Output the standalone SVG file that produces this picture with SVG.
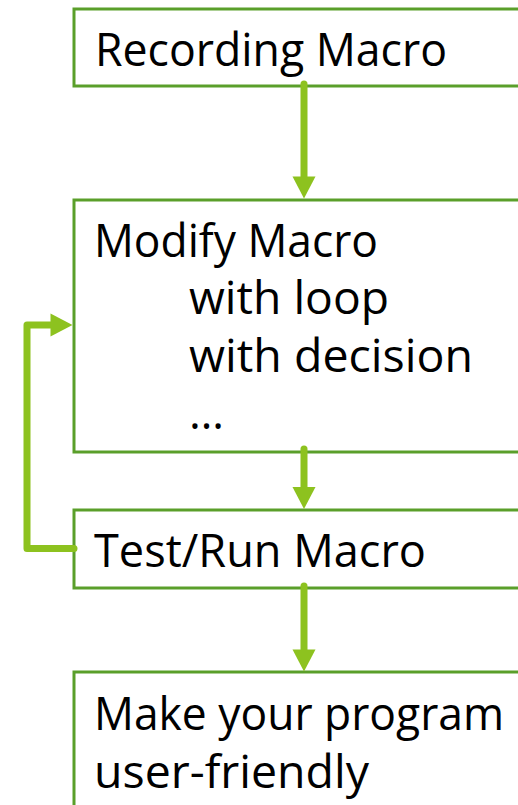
<svg xmlns="http://www.w3.org/2000/svg" width="518" height="805" viewBox="0 0 518 805">
  <style>
    .box { fill: #ffffff; stroke: #5a9f2a; stroke-width: 3; }
    .lbl { font-family: "Open Sans", "Liberation Sans", sans-serif; font-size: 45px; fill: #000000; }
    .conn { fill: none; stroke: #8dc21f; stroke-width: 7; stroke-linecap: round; stroke-linejoin: round; }
  </style>
  <defs>
    <marker id="arrow" markerUnits="userSpaceOnUse" markerWidth="22" markerHeight="23" refX="7" refY="11.5" orient="auto" overflow="visible">
      <path d="M0,0 L22,11.5 L0,23 Z" fill="#8dc21f"/>
    </marker>
  </defs>
  <rect width="518" height="805" fill="#ffffff"/>

  <g id="node-recording">
    <rect class="box" x="74" y="9" width="500" height="77"/>
    <text class="lbl" x="95" y="66" textLength="352" lengthAdjust="spacingAndGlyphs">Recording Macro</text>
  </g>

  <g id="node-modify">
    <rect class="box" x="74" y="200" width="500" height="252"/>
    <text class="lbl" x="94" y="256.5" textLength="284" lengthAdjust="spacingAndGlyphs">Modify Macro</text>
    <text class="lbl" x="189" y="314" textLength="200" lengthAdjust="spacingAndGlyphs">with loop</text>
    <text class="lbl" x="189" y="371.5" textLength="284" lengthAdjust="spacingAndGlyphs">with decision</text>
    <text class="lbl" x="189" y="429">…</text>
  </g>

  <g id="node-test">
    <rect class="box" x="74" y="510" width="500" height="78"/>
    <text class="lbl" x="94" y="567" textLength="332" lengthAdjust="spacingAndGlyphs">Test/Run Macro</text>
  </g>

  <g id="node-make">
    <rect class="box" x="74" y="672" width="500" height="200"/>
    <text class="lbl" x="94" y="730" textLength="410" lengthAdjust="spacingAndGlyphs">Make your program</text>
    <text class="lbl" x="94" y="788" textLength="275" lengthAdjust="spacingAndGlyphs">user-friendly</text>
  </g>

  <g id="connectors">
    <path class="conn" d="M304,84 V183.5" marker-end="url(#arrow)"/>
    <path class="conn" d="M304,449 V494" marker-end="url(#arrow)"/>
    <path class="conn" d="M304,586 V656.5" marker-end="url(#arrow)"/>
    <path class="conn" d="M74,548.5 H27 V325 H57.5" marker-end="url(#arrow)"/>
  </g>
</svg>
